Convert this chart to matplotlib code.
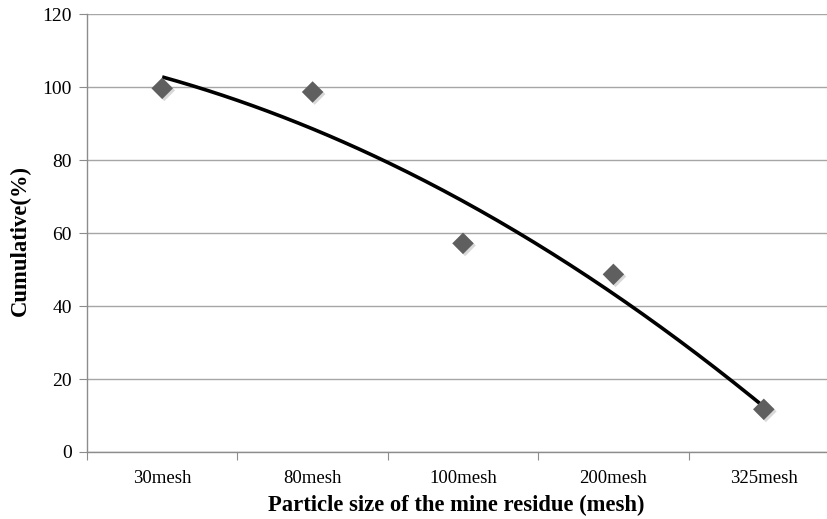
import numpy as np
import matplotlib
matplotlib.use("Agg")
import matplotlib.pyplot as plt
import matplotlib.patheffects as pe

categories = ["30mesh", "80mesh", "100mesh", "200mesh", "325mesh"]
cumulative = [99.7, 98.7, 57.2, 48.7, 11.7]

plt.rcParams['font.family'] = ['Liberation Serif', 'DejaVu Serif']

W, H = 827, 519
fig = plt.figure(figsize=(W / 100, H / 100), dpi=100)
left, right, top, bottom = 87, 839, 14.3, 452
ax = fig.add_axes([left / W, 1 - bottom / H, (right - left) / W, (bottom - top) / H])

x = np.arange(1, len(categories) + 1)
y = np.array(cumulative)

# polynomial (order 2) trendline, as in Excel
coef = np.polyfit(x, y, 2)
xs = np.linspace(x[0], x[-1], 200)
ax.plot(xs, np.polyval(coef, xs), color='black', lw=2.6, zorder=3, solid_capstyle='butt')

ax.scatter(x, y, marker='D', s=120, color='#5f5f5f', edgecolors='none', zorder=4,
           path_effects=[pe.SimplePatchShadow(offset=(1.5, -1.5), shadow_rgbFace='#aaaaaa', alpha=0.45),
                         pe.Normal()])

ax.set_xlim(0.5, len(categories) + 0.5)
ax.set_ylim(0, 120)
ax.set_yticks(np.arange(0, 121, 20))
ax.yaxis.grid(True, color='#a6a6a6', lw=1.0)
ax.set_axisbelow(True)

ax.set_xticks(np.arange(0.5, len(categories) + 1, 1))
ax.set_xticklabels([])
ax.set_xticks(x, minor=True)
ax.set_xticklabels(categories, minor=True)
ax.tick_params(axis='x', which='major', length=6, color='#8c8c8c', direction='out')
ax.tick_params(axis='x', which='minor', length=0, pad=13, labelsize=13.5)
ax.tick_params(axis='y', length=6, color='#8c8c8c', labelsize=14, pad=5)

for s in ['top', 'right']:
    ax.spines[s].set_visible(False)
for s in ['left', 'bottom']:
    ax.spines[s].set_color('#8c8c8c')
    ax.spines[s].set_linewidth(1.0)

ax.set_xlabel("Particle size of the mine residue (mesh)", fontsize=16.3, fontweight='bold')
ax.xaxis.set_label_coords((456 - left) / (right - left), -(505 - bottom) / (bottom - top), transform=ax.transAxes)
ax.set_ylabel("Cumulative(%)", fontsize=16.3, fontweight='bold')
ax.yaxis.set_label_coords(-(left - 20) / (right - left), (bottom - 240) / (bottom - top), transform=ax.transAxes)
ax.xaxis.label.set_va('center')
ax.yaxis.label.set_va('center')

fig.savefig("out.png", dpi=100)
